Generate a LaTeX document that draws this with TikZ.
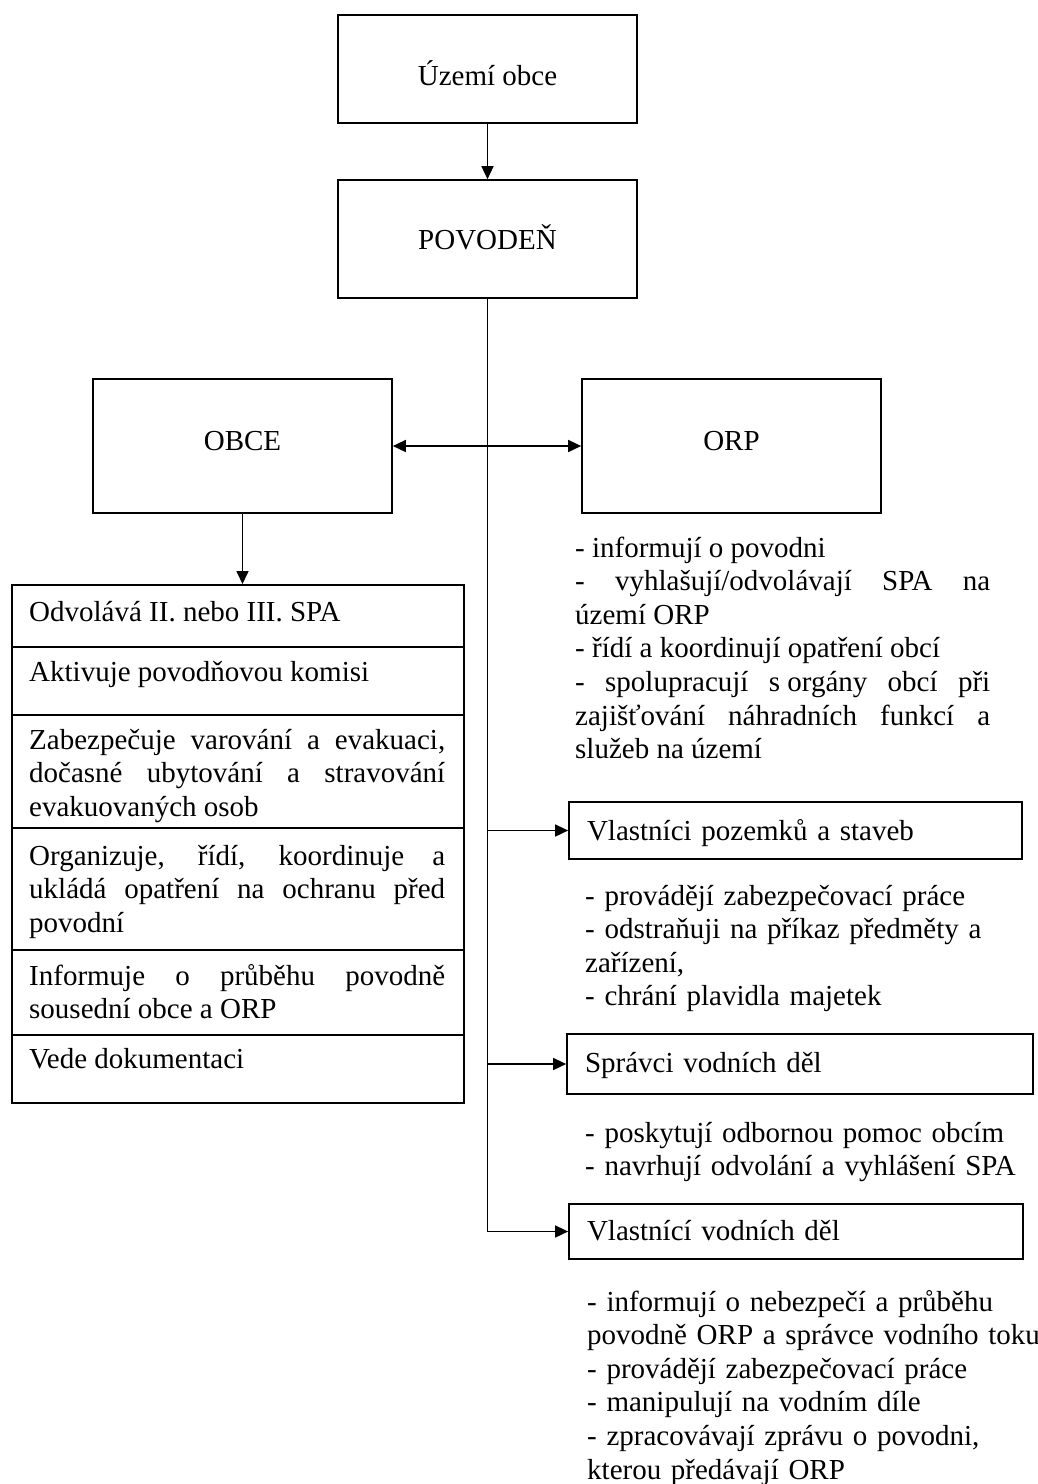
\documentclass[tikz,border=0pt]{standalone}
\usepackage{fontspec}
\setmainfont{Liberation Serif}
\usetikzlibrary{arrows.meta}
\hyphenpenalty=10000
\exhyphenpenalty=10000
\begin{document}
\begin{tikzpicture}[x=1pt,y=-1pt,
  every node/.style={font=\fontsize{29pt}{33.6pt}\selectfont, inner sep=0pt},
  cbox/.style={draw, line width=1.7pt, text depth=0pt, align=center},
  lbox/.style={draw, line width=1.7pt, inner xsep=18pt, inner ysep=0pt, text depth=0pt, align=left},
  rowbox/.style={draw, line width=1.7pt, anchor=north west, minimum width=452pt},
  para/.style={anchor=base west, align=left, text width=470pt},
  jpara/.style={anchor=base west, align=justify},
  arr/.style={line width=1.6pt, -{Triangle[length=13pt,width=12pt]}},
  arrtwo/.style={line width=1.6pt, {Triangle[length=13pt,width=12pt]}-{Triangle[length=13pt,width=12pt]}}
]
\useasboundingbox (0,0) rectangle (1037,1484);

% top boxes
\node[cbox, minimum width=299pt, minimum height=108pt, text height=32pt] (uzemi) at (487.5,69) {Území obce};
\node[cbox, minimum width=299pt, minimum height=118pt, text height=20pt] (povoden) at (487.5,239) {POVODEŇ};
\node[cbox, minimum width=299pt, minimum height=134pt, text height=8pt] (obce) at (242.5,446) {OBCE};
\node[cbox, minimum width=299pt, minimum height=134pt, text height=8pt] (orp) at (731.5,446) {ORP};

% table rows
\node[rowbox, minimum height=62pt] (r1) at (11,584) {};
\node[rowbox, minimum height=68pt] (r2) at (11,646) {};
\node[rowbox, minimum height=113pt] (r3) at (11,714) {};
\node[rowbox, minimum height=122pt] (r4) at (11,827) {};
\node[rowbox, minimum height=85pt] (r5) at (11,949) {};
\node[rowbox, minimum height=68pt] (r6) at (11,1034) {};

\node[jpara, text width=416pt] (t1) at (29,621) {Odvolává II. nebo III. SPA};
\node[jpara, text width=416pt] (t2) at (29,681) {Aktivuje povodňovou komisi};
\node[jpara, text width=416pt] (t3) at (29,749) {Zabezpečuje varování a evakuaci,\linebreak dočasné ubytování a stravování\linebreak evakuovaných osob};
\node[jpara, text width=416pt] (t4) at (29,865) {Organizuje, řídí, koordinuje a\linebreak ukládá opatření na ochranu před\linebreak povodní};
\node[jpara, text width=416pt] (t5) at (29,985) {Informuje o průběhu povodně\linebreak sousední obce a ORP};
\node[jpara, text width=416pt] (t6) at (29,1068) {Vede dokumentaci};

% right boxes
\node[lbox, minimum width=453pt, minimum height=57pt, text width=417pt, text height=19pt] (vpoz) at (795.5,830.5) {Vlastníci pozemků a staveb};
\node[lbox, minimum width=466pt, minimum height=60pt, text width=430pt, text height=16pt] (spr) at (800,1064) {Správci vodních děl};
\node[lbox, minimum width=454pt, minimum height=55pt, text width=418pt, text height=17pt] (vvd) at (796,1231.5) {Vlastnící vodních děl};

% right texts
\node[jpara, text width=415pt] (orptext) at (575,557) {- informují o povodni\\
- vyhlašují/odvolávají SPA na\linebreak území ORP\\
- řídí a koordinují opatření obcí\\
- spolupracují s\hspace{0.25em}orgány obcí při\linebreak zajišťování náhradních funkcí a\linebreak služeb na území};

\node[para] (vpoztext) at (585,905) {- provádějí zabezpečovací práce\\
- odstraňuji na příkaz předměty a\\
zařízení,\\
- chrání plavidla majetek};

\node[para] (sprtext) at (585,1142) {- poskytují odbornou pomoc obcím\\
- navrhují odvolání a vyhlášení SPA};

\node[para] (vvdtext) at (587,1311) {- informují o nebezpečí a průběhu\\
povodně ORP a správce vodního toku\\
- provádějí zabezpečovací práce\\
- manipulují na vodním díle\\
- zpracovávají zprávu o povodni,\\
kterou předávají ORP};

% connectors
\draw[arr] (uzemi) -- (povoden);
\draw[arrtwo] (obce.east) -- (orp.west);
\draw[arr] (obce.south) -- (obce.south |- r1.north);
\draw[arr] (povoden.south) |- (vvd.west);
\draw[arr] (povoden.south |- vpoz.west) -- (vpoz.west);
\draw[arr] (povoden.south |- spr.west) -- (spr.west);
\end{tikzpicture}
\end{document}
